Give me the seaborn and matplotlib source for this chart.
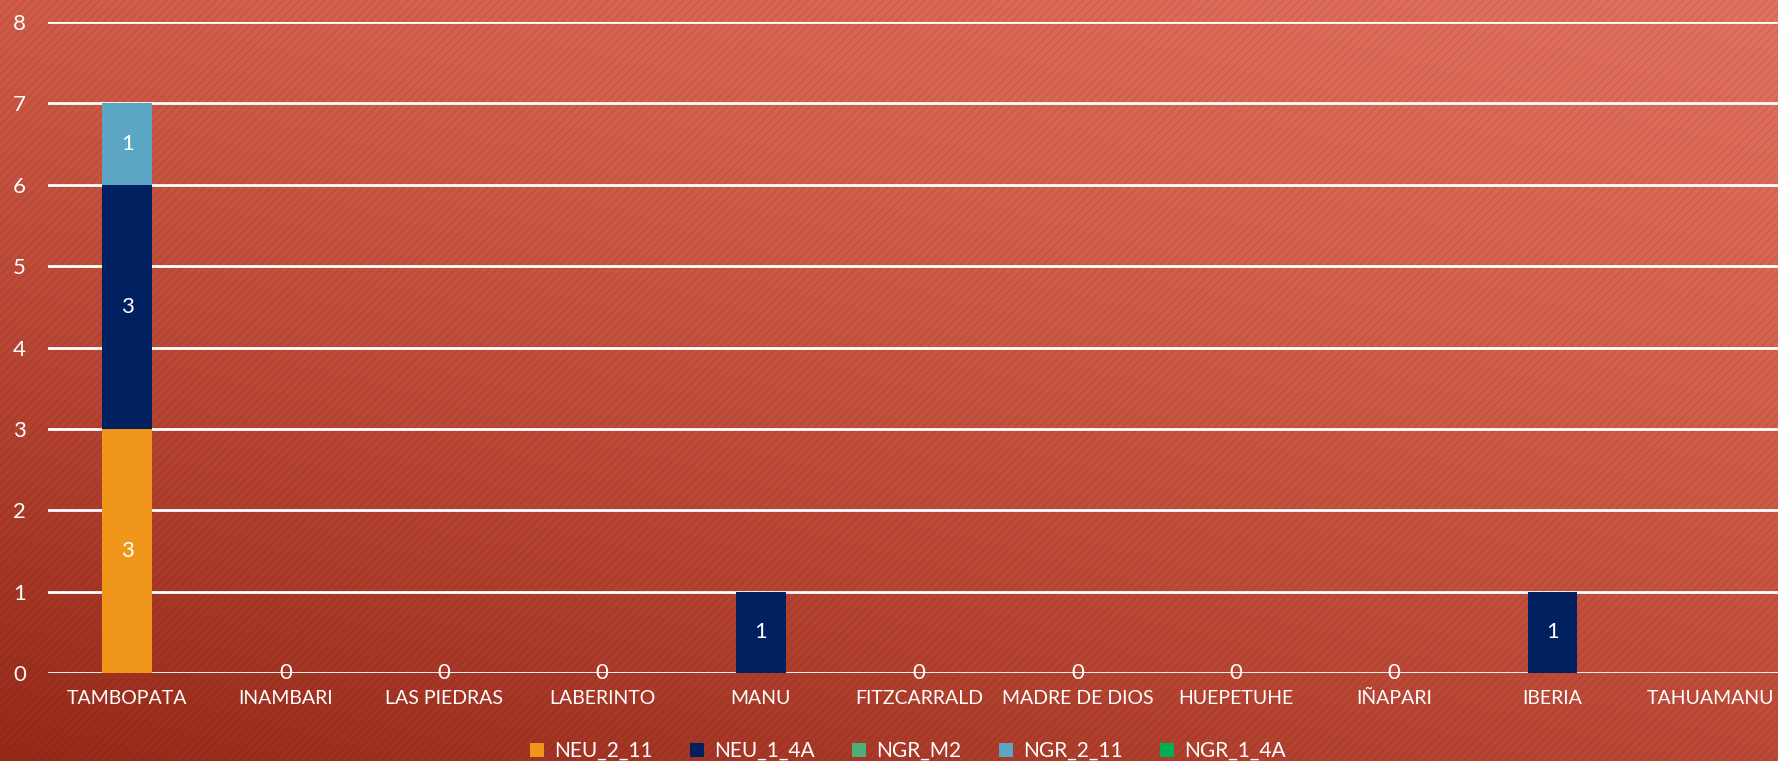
import numpy as np
import pandas as pd
import matplotlib
matplotlib.use("Agg")
import matplotlib.pyplot as plt
from matplotlib.patches import Patch, Rectangle
from matplotlib.colors import LinearSegmentedColormap
import seaborn as sns

categories = ["TAMBOPATA", "INAMBARI", "LAS PIEDRAS", "LABERINTO", "MANU", "FITZCARRALD",
              "MADRE DE DIOS", "HUEPETUHE", "IÑAPARI", "IBERIA", "TAHUAMANU"]
series_names = ["NEU_2_11", "NEU_1_4A", "NGR_M2", "NGR_2_11", "NGR_1_4A"]
neu_2_11 = [3, 0, 0, 0, np.nan, 0, 0, 0, 0, np.nan, np.nan]
neu_1_4a = [3, np.nan, np.nan, np.nan, 1, np.nan, np.nan, np.nan, np.nan, 1, np.nan]
ngr_m2 = [np.nan] * 11
ngr_2_11 = [1, np.nan, np.nan, np.nan, np.nan, np.nan, np.nan, np.nan, np.nan, np.nan, np.nan]
ngr_1_4a = [np.nan] * 11
colors = ["#F0961A", "#002060", "#4DAF74", "#5AA6C3", "#00B050"]
yticks = [0, 1, 2, 3, 4, 5, 6, 7, 8]

sns.set_theme(style="white")
plt.rcParams["font.family"] = ["Lato", "DejaVu Sans"]

W, H = 1778, 761
fig = plt.figure(figsize=(W / 100, H / 100), dpi=100)

# background gradient
bg = fig.add_axes([0, 0, 1, 1], zorder=-10)
yy, xx = np.mgrid[0:1:200j, 0:1:400j]
t = 0.62 * (1 - yy) + 0.38 * xx  # top-right light, bottom-left dark
cmap = LinearSegmentedColormap.from_list("bg", ["#962A1A", "#B84634", "#D2604C", "#E27260"])
bg.imshow(t, cmap=cmap, aspect="auto", extent=[0, 1, 0, 1], origin="upper", vmin=0, vmax=1)
bg.add_patch(Rectangle((0, 0), 1, 1, transform=bg.transAxes, facecolor="none",
                       edgecolor=(0.3, 0.05, 0.0, 0.10), hatch="////", linewidth=0))
bg.set_axis_off()

left, right = 48, 1790
bottom_px, top_px = 761 - 673, 761 - 22
ax = fig.add_axes([left / W, bottom_px / H, (right - left) / W, (top_px - bottom_px) / H])
ax.set_facecolor("none")

df = pd.DataFrame({"cat": categories, "NEU_2_11": neu_2_11, "NEU_1_4A": neu_1_4a,
                   "NGR_M2": ngr_m2, "NGR_2_11": ngr_2_11, "NGR_1_4A": ngr_1_4a})
vals = df[series_names].fillna(0).to_numpy()
cum = np.cumsum(vals, axis=1)

# draw cumulative bars from top layer down (stacking)
for i in range(len(series_names) - 1, -1, -1):
    d = pd.DataFrame({"cat": categories, "v": cum[:, i]})
    sns.barplot(data=d, x="cat", y="v", color=colors[i], saturation=1, width=0.315,
                ax=ax, order=categories, zorder=3, linewidth=0)

# data labels
for j, cat in enumerate(categories):
    for i, s in enumerate(series_names):
        v = df[s].iloc[j]
        if pd.isna(v):
            continue
        base = cum[j, i] - vals[j, i]
        ax.text(j, base + v / 2, f"{int(v)}", ha="center", va="center", color="white",
                fontsize=16, zorder=5)

ax.set_ylim(0, 8)
ax.set_xlim(-0.5, len(categories) - 0.5)
ax.set_yticks(yticks)
ax.set_yticklabels([str(v) for v in yticks], color="white", fontsize=16)
ax.set_xticks(range(len(categories)))
ax.set_xticklabels(categories, color="white", fontsize=14)
ax.tick_params(axis="both", length=0)
ax.tick_params(axis="y", pad=16)
ax.tick_params(axis="x", pad=12)
ax.yaxis.grid(True, color="white", linewidth=2, zorder=1)
ax.set_axisbelow(True)
for sp in ax.spines.values():
    sp.set_visible(False)
ax.set_xlabel("")
ax.set_ylabel("")

handles = [Patch(facecolor=c, edgecolor="none", label=n) for c, n in zip(colors, series_names)]
fig.legend(handles=handles, loc="center", bbox_to_anchor=(908 / W, 10 / H), ncol=5,
           frameon=False, fontsize=15, labelcolor="white", handlelength=0.65, handleheight=0.65,
           handletextpad=0.5, columnspacing=1.8)

fig.savefig("out.png", dpi=100)
